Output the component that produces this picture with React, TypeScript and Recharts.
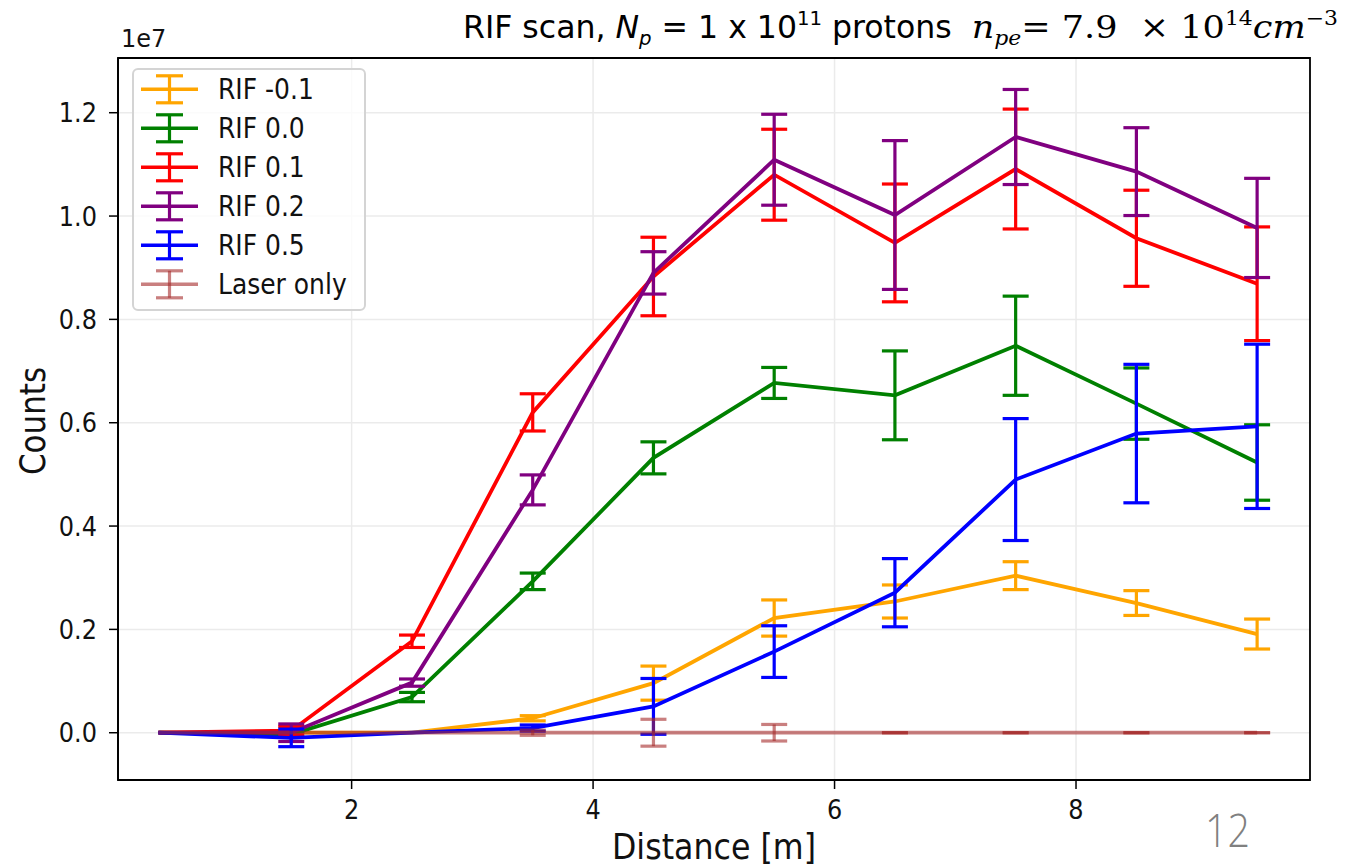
import React from 'react';
import { LineChart, Line, XAxis, YAxis, CartesianGrid, ErrorBar, Legend, ReferenceArea } from 'recharts';

// Distance [m]
const distance = [0.4, 1.5, 2.5, 3.5, 4.5, 5.5, 6.5, 7.5, 8.5, 9.5];

// Counts (units of 1e7)
const rifM01 = [0, 0, 0, 0.028, 0.096, 0.222, 0.254, 0.304, 0.251, 0.191];
const rifM01Err = [null, null, null, 0.005, 0.033, 0.035, 0.032, 0.027, 0.024, 0.029];

const rif00 = [0, -0.003, 0.069, 0.293, 0.532, 0.677, 0.653, 0.749, 0.637, 0.523];
const rif00Err = [null, 0.005, 0.009, 0.016, 0.031, 0.03, 0.086, 0.096, 0.069, 0.073];

const rif01 = [0, 0.004, 0.177, 0.62, 0.883, 1.08, 0.948, 1.091, 0.957, 0.869];
const rif01Err = [null, 0.008, 0.012, 0.036, 0.076, 0.088, 0.114, 0.116, 0.093, 0.11];

const rif02 = [0, 0.0, 0.097, 0.47, 0.89, 1.109, 1.002, 1.153, 1.086, 0.977];
const rif02Err = [null, 0.017, 0.007, 0.029, 0.041, 0.088, 0.144, 0.092, 0.085, 0.096];

const rif05 = [0, -0.01, 0, 0.009, 0.051, 0.157, 0.271, 0.49, 0.579, 0.593];
const rif05Err = [null, 0.017, null, 0.006, 0.054, 0.05, 0.066, 0.118, 0.134, 0.159];

const laser = [0, 0, 0, 0, 0, 0, 0, 0, 0, 0];
const laserErr = [null, null, null, 0.005, 0.026, 0.016, 0, 0, 0, 0];

const xTicks = [2, 4, 6, 8];
const yTicks = [0, 0.2, 0.4, 0.6, 0.8, 1.0, 1.2];

const series = [
  { key: 'rifM01', name: 'RIF -0.1', color: '#FFA500', opacity: 1, values: rifM01, errors: rifM01Err },
  { key: 'rif00', name: 'RIF 0.0', color: '#008000', opacity: 1, values: rif00, errors: rif00Err },
  { key: 'rif01', name: 'RIF 0.1', color: '#FF0000', opacity: 1, values: rif01, errors: rif01Err },
  { key: 'rif02', name: 'RIF 0.2', color: '#800080', opacity: 1, values: rif02, errors: rif02Err },
  { key: 'rif05', name: 'RIF 0.5', color: '#0000FF', opacity: 1, values: rif05, errors: rif05Err },
  { key: 'laser', name: 'Laser only', color: '#A52A2A', opacity: 0.6, values: laser, errors: laserErr },
];

const data = distance.map((d, i) => {
  const row: any = { distance: d };
  series.forEach((s) => {
    row[s.key] = s.values[i];
    const e = s.errors[i];
    row[s.key + 'Err'] = e === 0 ? [0, 0] : e;
  });
  return row;
});

const X_DOMAIN: [number, number] = [0.065, 9.938];
const Y_DOMAIN: [number, number] = [-0.0915, 1.3059];

const FONT = "'DejaVu Sans', sans-serif";

const XTick = (props: any) => {
  const { x, y, payload } = props;
  return (
    <text x={x} y={y} textAnchor="middle" fontSize={24} fontFamily={FONT} fill="#111"
      transform={`translate(0,${-y * 0.12}) scale(1,1.12)`} dy={17}>
      {String(payload.value)}
    </text>
  );
};

const YTick = (props: any) => {
  const { x, y, payload } = props;
  return (
    <text x={x} y={y} textAnchor="end" fontSize={24} fontFamily={FONT} fill="#111"
      transform={`translate(0,${-y * 0.12}) scale(1,1.12)`} dy={8.5}>
      {Number(payload.value).toFixed(1)}
    </text>
  );
};

const renderLegend = () => (
  <svg width={234} height={243} style={{ display: 'block' }}>
    <rect x={1} y={1} width={232} height={241} rx={5} ry={5} fill="rgba(255,255,255,0.8)" stroke="#d4d4d4" strokeWidth={2} />
    {series.map((s, i) => {
      const cy = 21.3 + 39 * i;
      return (
        <g key={s.key} stroke={s.color} strokeOpacity={s.opacity} strokeWidth={3.2}>
          <line x1={9} y1={cy} x2={66} y2={cy} strokeWidth={3.6} />
          <line x1={37.5} y1={cy - 13.5} x2={37.5} y2={cy + 13.5} />
          <line x1={24} y1={cy - 13.5} x2={51} y2={cy - 13.5} />
          <line x1={24} y1={cy + 13.5} x2={51} y2={cy + 13.5} />
          <text x={86} y={cy + 10} fontSize={25} fontFamily={FONT} fill="#111" stroke="none"
            transform={`translate(0,${-(cy + 10) * 0.1}) scale(1,1.1)`}>
            {s.name}
          </text>
        </g>
      );
    })}
  </svg>
);

export default function App() {
  return (
    <div style={{ position: 'absolute', left: 0, top: 0, width: 1366, height: 866, background: '#fff' }}>
      <LineChart
        width={1366}
        height={866}
        data={data}
        margin={{ top: 58, right: 56, left: 0, bottom: 0 }}
      >
        <CartesianGrid stroke="#ebebeb" strokeWidth={1.5} />
        <XAxis
          dataKey="distance"
          type="number"
          domain={X_DOMAIN}
          allowDataOverflow
          ticks={xTicks}
          interval={0}
          height={86}
          tickSize={9}
          tickMargin={11}
          tickLine={{ stroke: '#000', strokeWidth: 1.5 }}
          axisLine={{ stroke: '#000', strokeWidth: 1.8 }}
          tick={<XTick />}
        />
        <YAxis
          type="number"
          domain={Y_DOMAIN}
          allowDataOverflow
          ticks={yTicks}
          interval={0}
          width={118}
          tickSize={9}
          tickMargin={12}
          tickLine={{ stroke: '#000', strokeWidth: 1.5 }}
          axisLine={{ stroke: '#000', strokeWidth: 1.8 }}
          tick={<YTick />}
        />
        <ReferenceArea
          x1={X_DOMAIN[0]}
          x2={X_DOMAIN[1]}
          y1={Y_DOMAIN[0]}
          y2={Y_DOMAIN[1]}
          fill="none"
          stroke="#000"
          strokeWidth={1.8}
          ifOverflow="visible"
        />
        {series.map((s) => (
          <Line
            key={s.key}
            dataKey={s.key}
            name={s.name}
            type="linear"
            stroke={s.color}
            strokeOpacity={s.opacity}
            strokeWidth={3.8}
            dot={false}
            activeDot={false}
            isAnimationActive={false}
          >
            <ErrorBar
              dataKey={s.key + 'Err'}
              direction="y"
              width={13}
              stroke={s.color}
              strokeOpacity={s.opacity}
              strokeWidth={3.2}
              isAnimationActive={false}
            />
          </Line>
        ))}
        <Legend
          layout="vertical"
          align="center"
          verticalAlign="middle"
          content={renderLegend}
          wrapperStyle={{ left: 132, top: 68, width: 234, height: 243 }}
        />
      </LineChart>
      <svg
        width={1366}
        height={866}
        style={{ position: 'absolute', left: 0, top: 0, pointerEvents: 'none' }}
      >
        <text x={121} y={47} fontSize={24} fontFamily={FONT} fill="#111">1e7</text>
        <text
          x={0}
          y={0}
          transform="translate(45,421) rotate(-90)"
          textAnchor="middle"
          fontSize={36}
          fontFamily={FONT}
          textLength={108}
          lengthAdjust="spacingAndGlyphs"
          fill="#111"
        >
          Counts
        </text>
        <text
          x={714}
          y={859}
          textAnchor="middle"
          fontSize={35}
          fontFamily={FONT}
          textLength={204}
          lengthAdjust="spacingAndGlyphs"
          fill="#111"
        >
          Distance [m]
        </text>
        <text x={1205} y={847} fontSize={46} fontFamily="'Open Sans', sans-serif" fontWeight={300} textLength={45} lengthAdjust="spacingAndGlyphs" fill="#808080">
          12
        </text>
        <text
          x={463}
          y={38}
          fontSize={32}
          fontFamily="'Liberation Sans Narrow', 'DejaVu Sans Condensed', 'Liberation Sans', sans-serif"
          textLength={875}
          lengthAdjust="spacingAndGlyphs"
          fill="#000"
          style={{ whiteSpace: 'pre' }}
        >
          <tspan>{'RIF scan, '}</tspan>
          <tspan fontStyle="italic">N</tspan>
          <tspan fontSize={20} fontStyle="italic" dy={7}>p</tspan>
          <tspan dy={-7}>{' = 1 x 10'}</tspan>
          <tspan fontSize={20} dy={-13}>11</tspan>
          <tspan dy={13}>{' protons  '}</tspan>
          <tspan fontFamily="'DejaVu Serif', serif" fontStyle="italic">n</tspan>
          <tspan fontFamily="'DejaVu Serif', serif" fontStyle="italic" fontSize={20} dy={7}>pe</tspan>
          <tspan fontFamily="'DejaVu Serif', serif" dy={-7}>{'= 7.9  \u00d7 10'}</tspan>
          <tspan fontFamily="'DejaVu Serif', serif" fontSize={20} dy={-13}>14</tspan>
          <tspan fontFamily="'DejaVu Serif', serif" fontStyle="italic" dy={13}>cm</tspan>
          <tspan fontFamily="'DejaVu Serif', serif" fontSize={20} dy={-13}>{'\u22123'}</tspan>
        </text>
      </svg>
    </div>
  );
}
